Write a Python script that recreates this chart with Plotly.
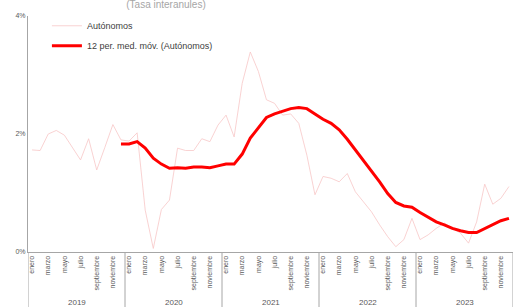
import plotly.graph_objects as go

years = ["2019", "2020", "2021", "2022", "2023"]
months = ["enero", "febrero", "marzo", "abril", "mayo", "junio", "julio",
          "agosto", "septiembre", "octubre", "noviembre", "diciembre"]

autonomos = [
    1.73, 1.72, 2.00, 2.06, 1.98, 1.77, 1.56, 1.92, 1.39, 1.77, 2.16, 1.90,
    1.88, 2.02, 0.71, 0.06, 0.72, 0.88, 1.76, 1.72, 1.72, 1.92, 1.87, 2.15,
    2.32, 1.95, 2.86, 3.39, 3.06, 2.58, 2.52, 2.32, 2.34, 2.18, 1.64, 0.97,
    1.28, 1.25, 1.19, 1.33, 1.02, 0.85, 0.68, 0.46, 0.26, 0.09, 0.21, 0.57,
    0.21, 0.29, 0.40, 0.49, 0.40, 0.32, 0.15, 0.51, 1.15, 0.81, 0.91, 1.11,
]
media_movil = [None] * 11 + [
    1.83, 1.83, 1.87, 1.76, 1.59, 1.49, 1.42, 1.43, 1.42, 1.44, 1.44, 1.43,
    1.46, 1.49, 1.49, 1.66, 1.93, 2.10, 2.28, 2.34, 2.38, 2.43, 2.45, 2.43,
    2.34, 2.25, 2.18, 2.07, 1.91, 1.73, 1.57, 1.38, 1.19, 0.99, 0.84, 0.78,
    0.76, 0.67, 0.59, 0.51, 0.46, 0.40, 0.36, 0.33, 0.33, 0.40, 0.47, 0.53,
    0.57,
]
y_ticks = [0, 2, 4]

n = len(years) * len(months)
x = list(range(n))
FONT = "Liberation Sans, Arial, sans-serif"
GRAY = "#595959"
LINE = "#a6a6a6"

fig = go.Figure()
fig.add_trace(go.Scatter(
    x=x, y=autonomos, mode="lines", name="Autónomos",
    line=dict(color="#f7c6c6", width=0.8), legendgroup="a",
))
fig.add_trace(go.Scatter(
    x=x, y=media_movil, mode="lines", name="12 per. med. móv. (Autónomos)",
    line=dict(color="#ff0000", width=3), legendgroup="b", connectgaps=False,
))

tickvals = [i for i in x if i % 2 == 0]
ticktext = [months[i % 12] for i in tickvals]

for k in range(len(years) + 1):
    fig.add_shape(type="line", xref="x", yref="paper",
                  x0=k * 12 - 0.5, x1=k * 12 - 0.5, y0=0, y1=-0.3,
                  line=dict(color=LINE, width=1))
for k, yr in enumerate(years):
    fig.add_annotation(x=k * 12 + 5.5, y=-0.212, xref="x", yref="paper",
                       text=yr, showarrow=False, yanchor="middle",
                       font=dict(size=8, color=GRAY, family=FONT))

fig.update_layout(
    width=513, height=307,
    margin=dict(l=28, r=0, t=16, b=55),
    paper_bgcolor="white", plot_bgcolor="white",
    font=dict(family=FONT, color=GRAY),
    title=dict(text="(Tasa interanules)", x=166 / 513, xanchor="center",
               y=1 - 4 / 307, yanchor="middle",
               font=dict(size=10, color="#a6a6a6", family=FONT)),
    showlegend=True,
    legend=dict(x=0.039, y=1.02, xanchor="left", yanchor="top",
                bgcolor="rgba(0,0,0,0)", tracegroupgap=1,
                font=dict(size=9, color="#404040", family=FONT)),
    xaxis=dict(range=[-0.5, n - 0.5], tickmode="array", tickvals=tickvals,
               ticktext=ticktext, tickangle=-90, showgrid=False, zeroline=False,
               showline=True, linecolor=LINE, linewidth=1, ticks="",
               tickfont=dict(size=7, color=GRAY, family=FONT)),
    yaxis=dict(range=[0, 4], tickmode="array", tickvals=y_ticks,
               ticktext=[f"{v}%" for v in y_ticks], showgrid=False, zeroline=False,
               showline=True, linecolor=LINE, linewidth=1, ticks="",
               tickfont=dict(size=7, color=GRAY, family=FONT)),
)

fig.write_html("out.html", config={"displayModeBar": False},
               post_script="document.body.style.margin='0';document.body.style.overflow='hidden';")
